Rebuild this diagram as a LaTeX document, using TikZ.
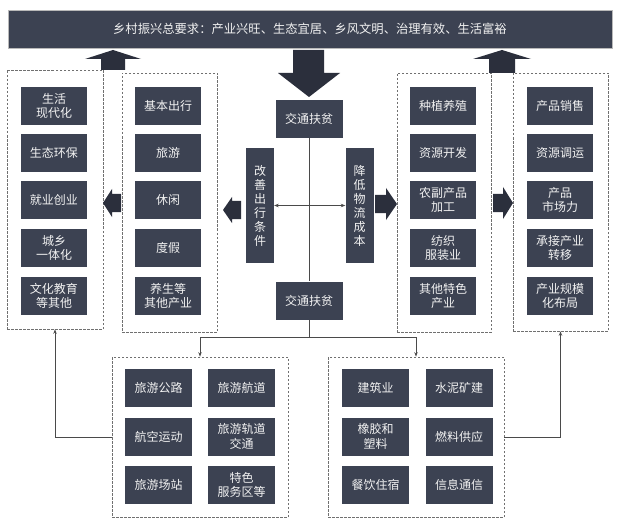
\documentclass[tikz,border=0pt]{standalone}
\usepackage{fontspec}
\newfontfamily\cjk{Noto Sans CJK SC}
\usetikzlibrary{arrows.meta}
\definecolor{nodecol}{HTML}{3C4252}
\definecolor{arrcol}{HTML}{2B2F3C}
\definecolor{linecol}{HTML}{4A4A4A}
\definecolor{dashcol}{HTML}{707070}
\definecolor{txtcol}{HTML}{F2F2F2}
\begin{document}
\begin{tikzpicture}[x=1pt,y=-1pt,
  cbox/.style={fill=nodecol,text=txtcol,minimum width=66pt,minimum height=38pt,inner sep=0pt,align=center,font=\cjk\fontsize{12}{14.5}\selectfont},
  bbox/.style={cbox,minimum width=67pt},
  vbox/.style={fill=nodecol,text=txtcol,minimum width=28pt,minimum height=115pt,inner sep=0pt,align=center,font=\cjk\fontsize{12}{14}\selectfont},
  dbox/.style={draw=dashcol,line width=0.7pt,dash pattern=on 2.5pt off 1.5pt,inner sep=0pt},
  conn/.style={draw=linecol,line width=0.8pt},
  tip/.style={-{Stealth[length=4.5pt,width=3.5pt]}},
  blk/.style={fill=arrcol}]
\useasboundingbox (0,0) rectangle (625,527);
\fill[white] (0,0) rectangle (625,527);
% banner
\node[fill=nodecol,draw=gray!55,line width=0.6pt,text=txtcol,minimum width=604pt,minimum height=38pt,inner sep=0pt,font=\cjk\fontsize{12.3}{14}\selectfont] (banner) at (310,29) {乡村振兴总要求：产业兴旺、生态宜居、乡风文明、治理有效、生活富裕};
% dashed group boxes
\node[dbox,minimum width=96pt,minimum height=259pt] (lo) at (55,199.5) {};
\node[dbox,minimum width=95pt,minimum height=259pt] (li) at (169.5,202.5) {};
\node[dbox,minimum width=94pt,minimum height=259pt] (ri) at (444,202.5) {};
\node[dbox,minimum width=95pt,minimum height=258pt] (ro) at (560.5,202) {};
\node[dbox,minimum width=176pt,minimum height=160pt] (bl) at (200,437) {};
\node[dbox,minimum width=176pt,minimum height=160pt] (br) at (416,437) {};
% left outer column
\node[cbox] (lo1) at (54,106) {生活\\现代化};
\node[cbox] (lo2) at (54,153) {生态环保};
\node[cbox] (lo3) at (54,200) {就业创业};
\node[cbox] (lo4) at (54,248) {城乡\\一体化};
\node[cbox] (lo5) at (54,296) {文化教育\\等其他};
% left inner column
\node[cbox] (li1) at (168,106) {基本出行};
\node[cbox] (li2) at (168,153) {旅游};
\node[cbox] (li3) at (168,200) {休闲};
\node[cbox] (li4) at (168,248) {度假};
\node[cbox] (li5) at (168,296) {养生等\\其他产业};
% right inner column
\node[cbox] (ri1) at (443,106) {种植养殖};
\node[cbox] (ri2) at (443,153) {资源开发};
\node[cbox] (ri3) at (443,200) {农副产品\\加工};
\node[cbox] (ri4) at (443,248) {纺织\\服装业};
\node[cbox] (ri5) at (443,296) {其他特色\\产业};
% right outer column
\node[cbox] (ro1) at (560,106) {产品销售};
\node[cbox] (ro2) at (560,153) {资源调运};
\node[cbox] (ro3) at (560,200) {产品\\市场力};
\node[cbox] (ro4) at (560,248) {承接产业\\转移};
\node[cbox] (ro5) at (560,296) {产业规模\\化布局};
% centre
\node[cbox,minimum width=67pt] (t1) at (309,119) {交通扶贫};
\node[cbox,minimum width=67pt] (t2) at (309,300.5) {交通扶贫};
\node[vbox] (gs) at (260,205.5) {改\\善\\出\\行\\条\\件};
\node[vbox] (jd) at (359.5,205.5) {降\\低\\物\\流\\成\\本};
% bottom left
\node[bbox] (bl1) at (158.5,388) {旅游公路};
\node[bbox] (bl2) at (241.5,388) {旅游航道};
\node[bbox] (bl3) at (158.5,436.5) {航空运动};
\node[bbox] (bl4) at (241.5,436.5) {旅游轨道\\交通};
\node[bbox] (bl5) at (158.5,485) {旅游场站};
\node[bbox] (bl6) at (241.5,485) {特色\\服务区等};
% bottom right
\node[bbox] (br1) at (375.5,388) {建筑业};
\node[bbox] (br2) at (459,388) {水泥矿建};
\node[bbox] (br3) at (375.5,436.5) {橡胶和\\塑料};
\node[bbox] (br4) at (459,436.5) {燃料供应};
\node[bbox] (br5) at (375.5,485) {餐饮住宿};
\node[bbox] (br6) at (459,485) {信息通信};
% connectors
\coordinate (m) at (309,205.5);
\coordinate (j) at (309,337);
\draw[conn] (t1.south) -- (t2.north);
\draw[conn,tip] (m) -- (gs.east);
\draw[conn,tip,line width=1.1pt] (m) -- (jd.west);
\draw[conn] (t2.south) -- (j);
\draw[conn,tip] (j) -| (bl.north);
\draw[conn,tip] (j) -| (br.north);
\draw[conn,tip] (bl.west) -| (lo.south);
\draw[conn,tip] (br.east) -| (ro.south);
% block arrows
\fill[blk] (113,50) -- (141,59) -- (125,59) -- (125,70) -- (101,70) -- (101,59) -- (85,59) -- cycle;
\fill[blk] (502,50) -- (531,59) -- (515,59) -- (515,73) -- (489,73) -- (489,59) -- (473,59) -- cycle;
\fill[blk] (293,50) -- (324,50) -- (324,73) -- (340,73) -- (309,97) -- (278,73) -- (293,73) -- cycle;
\fill[blk] (103,203) -- (112,189) -- (112,194) -- (121,194) -- (121,212) -- (112,212) -- (112,217) -- cycle;
\fill[blk] (223,210) -- (232,197) -- (232,201) -- (241,201) -- (241,219) -- (232,219) -- (232,223) -- cycle;
\fill[blk] (397,204) -- (386,188) -- (386,195) -- (375,195) -- (375,213) -- (386,213) -- (386,220) -- cycle;
\fill[blk] (513,203) -- (503,187) -- (503,194) -- (493,194) -- (493,212) -- (503,212) -- (503,219) -- cycle;
\end{tikzpicture}
\end{document}
